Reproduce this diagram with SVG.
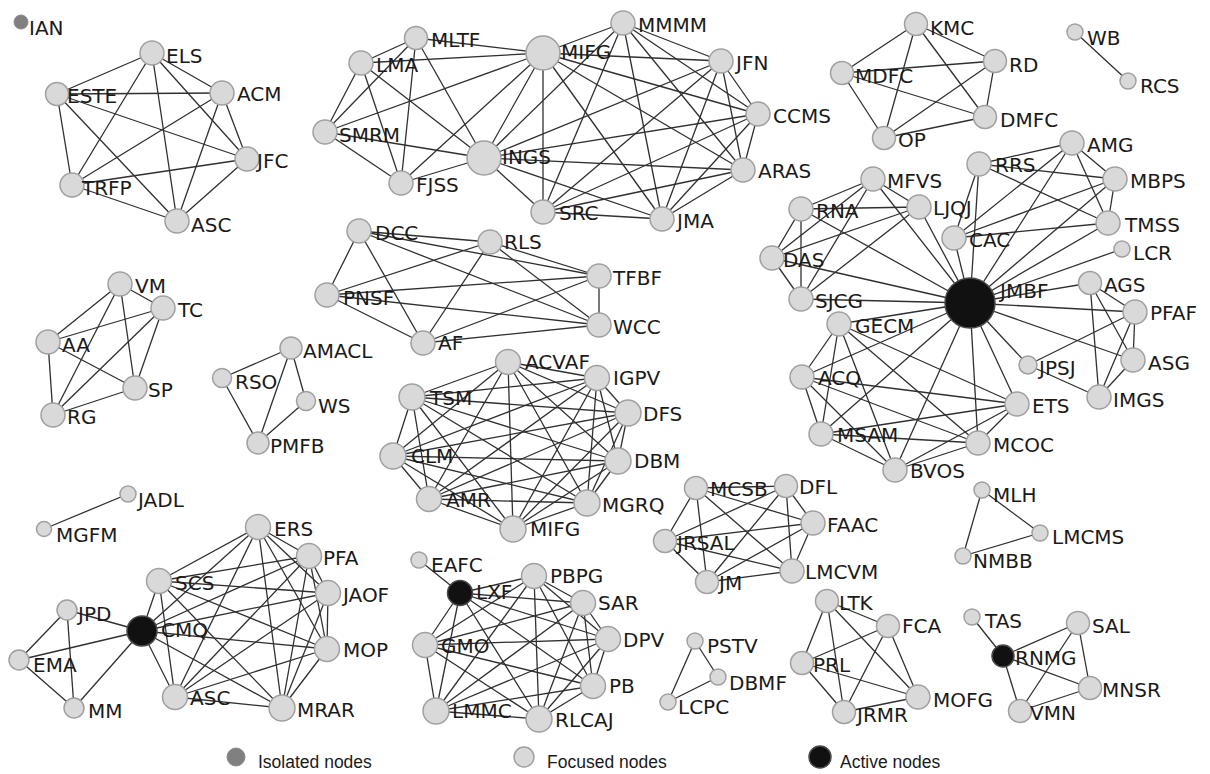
<svg xmlns="http://www.w3.org/2000/svg" width="1210" height="774" viewBox="0 0 1210 774">
<style>
.e line{stroke:#303030;stroke-width:1.3}
.n circle{fill:#d9d9d9;stroke:#a0a0a0;stroke-width:1.5}
.a circle{fill:#111;stroke:#4a4a4a;stroke-width:1.5}
.i circle{fill:#808080;stroke:#8a8a8a;stroke-width:1}
text{font-family:"DejaVu Sans",Verdana,sans-serif;font-size:20px;fill:#1a1a1a}
.lg text{font-family:"Liberation Sans",Arial,sans-serif;font-size:17.5px}
</style>
<rect width="1210" height="774" fill="#fff"/>
<g id="connectors" class="e">
<line x1="152" y1="53" x2="57" y2="94"/><line x1="152" y1="53" x2="222" y2="93"/><line x1="152" y1="53" x2="247" y2="159"/><line x1="152" y1="53" x2="72" y2="185"/><line x1="152" y1="53" x2="177" y2="221"/><line x1="57" y1="94" x2="222" y2="93"/><line x1="57" y1="94" x2="247" y2="159"/><line x1="57" y1="94" x2="72" y2="185"/><line x1="57" y1="94" x2="177" y2="221"/><line x1="222" y1="93" x2="247" y2="159"/><line x1="222" y1="93" x2="72" y2="185"/><line x1="222" y1="93" x2="177" y2="221"/><line x1="247" y1="159" x2="72" y2="185"/><line x1="247" y1="159" x2="177" y2="221"/><line x1="72" y1="185" x2="177" y2="221"/>
<line x1="416" y1="38" x2="361" y2="63"/><line x1="416" y1="38" x2="543" y2="53"/><line x1="416" y1="38" x2="325" y2="132"/><line x1="416" y1="38" x2="401" y2="183"/><line x1="416" y1="38" x2="484" y2="158"/><line x1="361" y1="63" x2="543" y2="53"/><line x1="361" y1="63" x2="325" y2="132"/><line x1="361" y1="63" x2="401" y2="183"/><line x1="361" y1="63" x2="484" y2="158"/><line x1="325" y1="132" x2="543" y2="53"/><line x1="325" y1="132" x2="484" y2="158"/><line x1="325" y1="132" x2="401" y2="183"/><line x1="401" y1="183" x2="484" y2="158"/><line x1="401" y1="183" x2="543" y2="53"/><line x1="484" y1="158" x2="543" y2="53"/><line x1="484" y1="158" x2="623" y2="23"/><line x1="484" y1="158" x2="721" y2="61"/><line x1="484" y1="158" x2="758" y2="114"/><line x1="484" y1="158" x2="743" y2="170"/><line x1="484" y1="158" x2="662" y2="219"/><line x1="484" y1="158" x2="543" y2="212"/><line x1="543" y1="53" x2="623" y2="23"/><line x1="543" y1="53" x2="721" y2="61"/><line x1="543" y1="53" x2="758" y2="114"/><line x1="543" y1="53" x2="743" y2="170"/><line x1="543" y1="53" x2="662" y2="219"/><line x1="543" y1="53" x2="543" y2="212"/><line x1="623" y1="23" x2="721" y2="61"/><line x1="623" y1="23" x2="758" y2="114"/><line x1="623" y1="23" x2="743" y2="170"/><line x1="623" y1="23" x2="662" y2="219"/><line x1="623" y1="23" x2="543" y2="212"/><line x1="721" y1="61" x2="758" y2="114"/><line x1="721" y1="61" x2="743" y2="170"/><line x1="721" y1="61" x2="662" y2="219"/><line x1="721" y1="61" x2="543" y2="212"/><line x1="758" y1="114" x2="743" y2="170"/><line x1="758" y1="114" x2="662" y2="219"/><line x1="758" y1="114" x2="543" y2="212"/><line x1="743" y1="170" x2="662" y2="219"/><line x1="743" y1="170" x2="543" y2="212"/><line x1="662" y1="219" x2="543" y2="212"/>
<line x1="916" y1="24" x2="842" y2="73"/><line x1="916" y1="24" x2="995" y2="61"/><line x1="916" y1="24" x2="985" y2="117"/><line x1="916" y1="24" x2="884" y2="138"/><line x1="842" y1="73" x2="995" y2="61"/><line x1="842" y1="73" x2="985" y2="117"/><line x1="842" y1="73" x2="884" y2="138"/><line x1="995" y1="61" x2="985" y2="117"/><line x1="995" y1="61" x2="884" y2="138"/><line x1="985" y1="117" x2="884" y2="138"/>
<line x1="1075" y1="32" x2="1128" y2="81"/>
<line x1="970" y1="303" x2="873" y2="179"/><line x1="970" y1="303" x2="919" y2="207"/><line x1="970" y1="303" x2="801" y2="209"/><line x1="970" y1="303" x2="772" y2="258"/><line x1="970" y1="303" x2="801" y2="299"/><line x1="970" y1="303" x2="954" y2="238"/><line x1="970" y1="303" x2="979" y2="164"/><line x1="970" y1="303" x2="1072" y2="143"/><line x1="970" y1="303" x2="1115" y2="179"/><line x1="970" y1="303" x2="1108" y2="223"/><line x1="970" y1="303" x2="1122" y2="249"/><line x1="970" y1="303" x2="1090" y2="283"/><line x1="970" y1="303" x2="1135" y2="312"/><line x1="970" y1="303" x2="1133" y2="360"/><line x1="970" y1="303" x2="1028" y2="365"/><line x1="970" y1="303" x2="1017" y2="404"/><line x1="970" y1="303" x2="978" y2="443"/><line x1="970" y1="303" x2="895" y2="470"/><line x1="970" y1="303" x2="821" y2="434"/><line x1="970" y1="303" x2="802" y2="377"/><line x1="970" y1="303" x2="839" y2="324"/>
<line x1="873" y1="179" x2="801" y2="209"/><line x1="873" y1="179" x2="919" y2="207"/><line x1="873" y1="179" x2="772" y2="258"/><line x1="873" y1="179" x2="801" y2="299"/><line x1="801" y1="209" x2="919" y2="207"/><line x1="801" y1="209" x2="772" y2="258"/><line x1="801" y1="209" x2="801" y2="299"/><line x1="919" y1="207" x2="772" y2="258"/><line x1="919" y1="207" x2="801" y2="299"/><line x1="772" y1="258" x2="801" y2="299"/>
<line x1="979" y1="164" x2="1072" y2="143"/><line x1="979" y1="164" x2="1115" y2="179"/><line x1="979" y1="164" x2="1108" y2="223"/><line x1="979" y1="164" x2="954" y2="238"/><line x1="1072" y1="143" x2="1115" y2="179"/><line x1="1072" y1="143" x2="1108" y2="223"/><line x1="1072" y1="143" x2="954" y2="238"/><line x1="1115" y1="179" x2="1108" y2="223"/><line x1="1115" y1="179" x2="954" y2="238"/><line x1="1108" y1="223" x2="954" y2="238"/>
<line x1="1090" y1="283" x2="1135" y2="312"/><line x1="1090" y1="283" x2="1133" y2="360"/><line x1="1090" y1="283" x2="1099" y2="397"/><line x1="1135" y1="312" x2="1133" y2="360"/><line x1="1135" y1="312" x2="1099" y2="397"/><line x1="1135" y1="312" x2="1028" y2="365"/><line x1="1133" y1="360" x2="1099" y2="397"/><line x1="1028" y1="365" x2="1099" y2="397"/>
<line x1="839" y1="324" x2="802" y2="377"/><line x1="839" y1="324" x2="821" y2="434"/><line x1="839" y1="324" x2="895" y2="470"/><line x1="839" y1="324" x2="978" y2="443"/><line x1="839" y1="324" x2="1017" y2="404"/><line x1="802" y1="377" x2="821" y2="434"/><line x1="802" y1="377" x2="895" y2="470"/><line x1="802" y1="377" x2="978" y2="443"/><line x1="802" y1="377" x2="1017" y2="404"/><line x1="821" y1="434" x2="895" y2="470"/><line x1="821" y1="434" x2="978" y2="443"/><line x1="821" y1="434" x2="1017" y2="404"/><line x1="895" y1="470" x2="978" y2="443"/><line x1="895" y1="470" x2="1017" y2="404"/><line x1="978" y1="443" x2="1017" y2="404"/>
<line x1="120" y1="284" x2="163" y2="308"/><line x1="120" y1="284" x2="48" y2="342"/><line x1="120" y1="284" x2="135" y2="388"/><line x1="120" y1="284" x2="53" y2="415"/><line x1="163" y1="308" x2="48" y2="342"/><line x1="163" y1="308" x2="135" y2="388"/><line x1="163" y1="308" x2="53" y2="415"/><line x1="48" y1="342" x2="135" y2="388"/><line x1="48" y1="342" x2="53" y2="415"/><line x1="135" y1="388" x2="53" y2="415"/>
<line x1="291" y1="348" x2="222" y2="378"/><line x1="291" y1="348" x2="306" y2="401"/><line x1="291" y1="348" x2="258" y2="443"/><line x1="222" y1="378" x2="258" y2="443"/><line x1="306" y1="401" x2="258" y2="443"/>
<line x1="359" y1="231" x2="490" y2="242"/><line x1="359" y1="231" x2="599" y2="276"/><line x1="359" y1="231" x2="327" y2="295"/><line x1="359" y1="231" x2="599" y2="325"/><line x1="359" y1="231" x2="423" y2="343"/><line x1="490" y1="242" x2="599" y2="276"/><line x1="490" y1="242" x2="327" y2="295"/><line x1="490" y1="242" x2="599" y2="325"/><line x1="490" y1="242" x2="423" y2="343"/><line x1="599" y1="276" x2="327" y2="295"/><line x1="599" y1="276" x2="599" y2="325"/><line x1="599" y1="276" x2="423" y2="343"/><line x1="327" y1="295" x2="599" y2="325"/><line x1="327" y1="295" x2="423" y2="343"/><line x1="599" y1="325" x2="423" y2="343"/>
<line x1="508" y1="362" x2="597" y2="378"/><line x1="508" y1="362" x2="412" y2="397"/><line x1="508" y1="362" x2="628" y2="413"/><line x1="508" y1="362" x2="393" y2="456"/><line x1="508" y1="362" x2="618" y2="461"/><line x1="508" y1="362" x2="429" y2="499"/><line x1="508" y1="362" x2="587" y2="503"/><line x1="508" y1="362" x2="513" y2="529"/><line x1="597" y1="378" x2="412" y2="397"/><line x1="597" y1="378" x2="628" y2="413"/><line x1="597" y1="378" x2="393" y2="456"/><line x1="597" y1="378" x2="618" y2="461"/><line x1="597" y1="378" x2="429" y2="499"/><line x1="597" y1="378" x2="587" y2="503"/><line x1="597" y1="378" x2="513" y2="529"/><line x1="412" y1="397" x2="628" y2="413"/><line x1="412" y1="397" x2="393" y2="456"/><line x1="412" y1="397" x2="618" y2="461"/><line x1="412" y1="397" x2="429" y2="499"/><line x1="412" y1="397" x2="587" y2="503"/><line x1="412" y1="397" x2="513" y2="529"/><line x1="628" y1="413" x2="393" y2="456"/><line x1="628" y1="413" x2="618" y2="461"/><line x1="628" y1="413" x2="429" y2="499"/><line x1="628" y1="413" x2="587" y2="503"/><line x1="628" y1="413" x2="513" y2="529"/><line x1="393" y1="456" x2="618" y2="461"/><line x1="393" y1="456" x2="429" y2="499"/><line x1="393" y1="456" x2="587" y2="503"/><line x1="393" y1="456" x2="513" y2="529"/><line x1="618" y1="461" x2="429" y2="499"/><line x1="618" y1="461" x2="587" y2="503"/><line x1="618" y1="461" x2="513" y2="529"/><line x1="429" y1="499" x2="587" y2="503"/><line x1="429" y1="499" x2="513" y2="529"/><line x1="587" y1="503" x2="513" y2="529"/>
<line x1="696" y1="488" x2="786" y2="486"/><line x1="696" y1="488" x2="813" y2="523"/><line x1="696" y1="488" x2="665" y2="541"/><line x1="696" y1="488" x2="792" y2="571"/><line x1="696" y1="488" x2="707" y2="582"/><line x1="786" y1="486" x2="813" y2="523"/><line x1="786" y1="486" x2="665" y2="541"/><line x1="786" y1="486" x2="792" y2="571"/><line x1="786" y1="486" x2="707" y2="582"/><line x1="813" y1="523" x2="665" y2="541"/><line x1="813" y1="523" x2="792" y2="571"/><line x1="813" y1="523" x2="707" y2="582"/><line x1="665" y1="541" x2="792" y2="571"/><line x1="665" y1="541" x2="707" y2="582"/><line x1="792" y1="571" x2="707" y2="582"/>
<line x1="982" y1="490" x2="1040" y2="533"/><line x1="982" y1="490" x2="963" y2="556"/><line x1="963" y1="556" x2="1040" y2="533"/>
<line x1="128" y1="494" x2="44" y2="529"/>
<line x1="67" y1="610" x2="19" y2="660"/><line x1="67" y1="610" x2="74" y2="708"/><line x1="67" y1="610" x2="142" y2="631"/><line x1="19" y1="660" x2="74" y2="708"/><line x1="19" y1="660" x2="142" y2="631"/><line x1="74" y1="708" x2="142" y2="631"/>
<line x1="142" y1="631" x2="258" y2="527"/><line x1="142" y1="631" x2="309" y2="556"/><line x1="142" y1="631" x2="159" y2="581"/><line x1="142" y1="631" x2="328" y2="593"/><line x1="142" y1="631" x2="327" y2="649"/><line x1="142" y1="631" x2="175" y2="697"/><line x1="142" y1="631" x2="282" y2="708"/><line x1="258" y1="527" x2="309" y2="556"/><line x1="258" y1="527" x2="159" y2="581"/><line x1="258" y1="527" x2="328" y2="593"/><line x1="258" y1="527" x2="327" y2="649"/><line x1="258" y1="527" x2="175" y2="697"/><line x1="258" y1="527" x2="282" y2="708"/><line x1="309" y1="556" x2="159" y2="581"/><line x1="309" y1="556" x2="328" y2="593"/><line x1="309" y1="556" x2="327" y2="649"/><line x1="309" y1="556" x2="175" y2="697"/><line x1="309" y1="556" x2="282" y2="708"/><line x1="159" y1="581" x2="328" y2="593"/><line x1="159" y1="581" x2="327" y2="649"/><line x1="159" y1="581" x2="175" y2="697"/><line x1="159" y1="581" x2="282" y2="708"/><line x1="328" y1="593" x2="327" y2="649"/><line x1="328" y1="593" x2="175" y2="697"/><line x1="328" y1="593" x2="282" y2="708"/><line x1="327" y1="649" x2="175" y2="697"/><line x1="327" y1="649" x2="282" y2="708"/><line x1="175" y1="697" x2="282" y2="708"/>
<line x1="419" y1="560" x2="460" y2="593"/>
<line x1="460" y1="593" x2="534" y2="576"/><line x1="460" y1="593" x2="583" y2="603"/><line x1="460" y1="593" x2="425" y2="645"/><line x1="460" y1="593" x2="608" y2="639"/><line x1="460" y1="593" x2="593" y2="686"/><line x1="460" y1="593" x2="436" y2="711"/><line x1="460" y1="593" x2="539" y2="719"/><line x1="534" y1="576" x2="583" y2="603"/><line x1="534" y1="576" x2="425" y2="645"/><line x1="534" y1="576" x2="608" y2="639"/><line x1="534" y1="576" x2="593" y2="686"/><line x1="534" y1="576" x2="436" y2="711"/><line x1="534" y1="576" x2="539" y2="719"/><line x1="583" y1="603" x2="425" y2="645"/><line x1="583" y1="603" x2="608" y2="639"/><line x1="583" y1="603" x2="593" y2="686"/><line x1="583" y1="603" x2="436" y2="711"/><line x1="583" y1="603" x2="539" y2="719"/><line x1="425" y1="645" x2="608" y2="639"/><line x1="425" y1="645" x2="593" y2="686"/><line x1="425" y1="645" x2="436" y2="711"/><line x1="425" y1="645" x2="539" y2="719"/><line x1="608" y1="639" x2="593" y2="686"/><line x1="608" y1="639" x2="436" y2="711"/><line x1="608" y1="639" x2="539" y2="719"/><line x1="593" y1="686" x2="436" y2="711"/><line x1="593" y1="686" x2="539" y2="719"/><line x1="436" y1="711" x2="539" y2="719"/>
<line x1="695" y1="641" x2="718" y2="677"/><line x1="695" y1="641" x2="668" y2="702"/><line x1="668" y1="702" x2="718" y2="677"/>
<line x1="827" y1="601" x2="888" y2="626"/><line x1="827" y1="601" x2="802" y2="663"/><line x1="827" y1="601" x2="918" y2="697"/><line x1="827" y1="601" x2="844" y2="712"/><line x1="888" y1="626" x2="802" y2="663"/><line x1="888" y1="626" x2="918" y2="697"/><line x1="888" y1="626" x2="844" y2="712"/><line x1="802" y1="663" x2="918" y2="697"/><line x1="802" y1="663" x2="844" y2="712"/><line x1="918" y1="697" x2="844" y2="712"/>
<line x1="972" y1="617" x2="1003" y2="656"/><line x1="1003" y1="656" x2="1078" y2="623"/><line x1="1003" y1="656" x2="1090" y2="688"/><line x1="1003" y1="656" x2="1020" y2="711"/><line x1="1078" y1="623" x2="1090" y2="688"/><line x1="1078" y1="623" x2="1020" y2="711"/><line x1="1020" y1="711" x2="1090" y2="688"/>
</g>
<g id="n-IAN" class="i"><circle cx="21" cy="22" r="7"/><text x="29" y="35">IAN</text></g>
<g id="n-ELS" class="n"><circle cx="152" cy="53" r="12"/><text x="166" y="63">ELS</text></g>
<g id="n-ESTE" class="n"><circle cx="57" cy="94" r="11.5"/><text x="67" y="103">ESTE</text></g>
<g id="n-ACM" class="n"><circle cx="222" cy="93" r="12"/><text x="237" y="101">ACM</text></g>
<g id="n-JFC" class="n"><circle cx="247" cy="159" r="12"/><text x="257" y="168">JFC</text></g>
<g id="n-TRFP" class="n"><circle cx="72" cy="185" r="12"/><text x="82" y="195">TRFP</text></g>
<g id="n-ASC-1" class="n"><circle cx="177" cy="221" r="12"/><text x="191" y="232">ASC</text></g>
<g id="n-MLTF" class="n"><circle cx="416" cy="38" r="11.5"/><text x="431" y="47">MLTF</text></g>
<g id="n-LMA" class="n"><circle cx="361" cy="63" r="12"/><text x="376" y="72">LMA</text></g>
<g id="n-SMRM" class="n"><circle cx="325" cy="132" r="12"/><text x="339" y="142">SMRM</text></g>
<g id="n-FJSS" class="n"><circle cx="401" cy="183" r="12"/><text x="416" y="192">FJSS</text></g>
<g id="n-INGS" class="n"><circle cx="484" cy="158" r="17"/><text x="502" y="164">INGS</text></g>
<g id="n-MIFG-1" class="n"><circle cx="543" cy="53" r="17"/><text x="561" y="59">MIFG</text></g>
<g id="n-MMMM" class="n"><circle cx="623" cy="23" r="12"/><text x="638" y="32">MMMM</text></g>
<g id="n-JFN" class="n"><circle cx="721" cy="61" r="12"/><text x="736" y="70">JFN</text></g>
<g id="n-CCMS" class="n"><circle cx="758" cy="114" r="12"/><text x="773" y="123">CCMS</text></g>
<g id="n-ARAS" class="n"><circle cx="743" cy="170" r="12"/><text x="758" y="178">ARAS</text></g>
<g id="n-JMA" class="n"><circle cx="662" cy="219" r="12"/><text x="677" y="228">JMA</text></g>
<g id="n-SRC" class="n"><circle cx="543" cy="212" r="12"/><text x="559" y="220">SRC</text></g>
<g id="n-KMC" class="n"><circle cx="916" cy="24" r="11.5"/><text x="930" y="35">KMC</text></g>
<g id="n-MDFC" class="n"><circle cx="842" cy="73" r="11.5"/><text x="855" y="83">MDFC</text></g>
<g id="n-RD" class="n"><circle cx="995" cy="61" r="11.5"/><text x="1009" y="72">RD</text></g>
<g id="n-DMFC" class="n"><circle cx="985" cy="117" r="11.5"/><text x="1000" y="127">DMFC</text></g>
<g id="n-OP" class="n"><circle cx="884" cy="138" r="11.5"/><text x="898" y="147">OP</text></g>
<g id="n-WB" class="n"><circle cx="1075" cy="32" r="8"/><text x="1087" y="45">WB</text></g>
<g id="n-RCS" class="n"><circle cx="1128" cy="81" r="8"/><text x="1140" y="93">RCS</text></g>
<g id="n-AMG" class="n"><circle cx="1072" cy="143" r="12"/><text x="1087" y="152">AMG</text></g>
<g id="n-RRS" class="n"><circle cx="979" cy="164" r="12"/><text x="995" y="172">RRS</text></g>
<g id="n-MBPS" class="n"><circle cx="1115" cy="179" r="12"/><text x="1130" y="188">MBPS</text></g>
<g id="n-MFVS" class="n"><circle cx="873" cy="179" r="12"/><text x="887" y="188">MFVS</text></g>
<g id="n-RNA" class="n"><circle cx="801" cy="209" r="12"/><text x="816" y="218">RNA</text></g>
<g id="n-LJQJ" class="n"><circle cx="919" cy="207" r="12"/><text x="933" y="215">LJQJ</text></g>
<g id="n-TMSS" class="n"><circle cx="1108" cy="223" r="12"/><text x="1125" y="232">TMSS</text></g>
<g id="n-CAC" class="n"><circle cx="954" cy="238" r="12"/><text x="969" y="247">CAC</text></g>
<g id="n-LCR" class="n"><circle cx="1122" cy="249" r="8"/><text x="1133" y="260">LCR</text></g>
<g id="n-DAS" class="n"><circle cx="772" cy="258" r="12"/><text x="783" y="267">DAS</text></g>
<g id="n-SJCG" class="n"><circle cx="801" cy="299" r="12"/><text x="815" y="308">SJCG</text></g>
<g id="n-AGS" class="n"><circle cx="1090" cy="283" r="11.5"/><text x="1104" y="292">AGS</text></g>
<g id="n-PFAF" class="n"><circle cx="1135" cy="312" r="12"/><text x="1150" y="320">PFAF</text></g>
<g id="n-GECM" class="n"><circle cx="839" cy="324" r="12"/><text x="855" y="333">GECM</text></g>
<g id="n-ASG" class="n"><circle cx="1133" cy="360" r="12"/><text x="1148" y="370">ASG</text></g>
<g id="n-JPSJ" class="n"><circle cx="1028" cy="365" r="9"/><text x="1039" y="375">JPSJ</text></g>
<g id="n-ACQ" class="n"><circle cx="802" cy="377" r="12"/><text x="818" y="385">ACQ</text></g>
<g id="n-IMGS" class="n"><circle cx="1099" cy="397" r="12"/><text x="1113" y="407">IMGS</text></g>
<g id="n-ETS" class="n"><circle cx="1017" cy="404" r="12"/><text x="1032" y="413">ETS</text></g>
<g id="n-MSAM" class="n"><circle cx="821" cy="434" r="12"/><text x="837" y="442">MSAM</text></g>
<g id="n-MCOC" class="n"><circle cx="978" cy="443" r="12"/><text x="993" y="452">MCOC</text></g>
<g id="n-BVOS" class="n"><circle cx="895" cy="470" r="12"/><text x="910" y="478">BVOS</text></g>
<g id="n-JMBF" class="a"><circle cx="970" cy="303" r="25"/><text x="1000" y="298">JMBF</text></g>
<g id="n-VM" class="n"><circle cx="120" cy="284" r="12"/><text x="135" y="293">VM</text></g>
<g id="n-TC" class="n"><circle cx="163" cy="308" r="12"/><text x="178" y="317">TC</text></g>
<g id="n-AA" class="n"><circle cx="48" cy="342" r="12"/><text x="62" y="352">AA</text></g>
<g id="n-SP" class="n"><circle cx="135" cy="388" r="12"/><text x="148" y="397">SP</text></g>
<g id="n-RG" class="n"><circle cx="53" cy="415" r="12"/><text x="67" y="424">RG</text></g>
<g id="n-AMACL" class="n"><circle cx="291" cy="348" r="11"/><text x="303" y="358">AMACL</text></g>
<g id="n-RSO" class="n"><circle cx="222" cy="378" r="9.5"/><text x="235" y="389">RSO</text></g>
<g id="n-WS" class="n"><circle cx="306" cy="401" r="9.5"/><text x="318" y="413">WS</text></g>
<g id="n-PMFB" class="n"><circle cx="258" cy="443" r="11"/><text x="270" y="453">PMFB</text></g>
<g id="n-DCC" class="n"><circle cx="359" cy="231" r="12"/><text x="375" y="240">DCC</text></g>
<g id="n-RLS" class="n"><circle cx="490" cy="242" r="12"/><text x="504" y="249">RLS</text></g>
<g id="n-TFBF" class="n"><circle cx="599" cy="276" r="12"/><text x="613" y="285">TFBF</text></g>
<g id="n-PNSF" class="n"><circle cx="327" cy="295" r="12"/><text x="343" y="305">PNSF</text></g>
<g id="n-WCC" class="n"><circle cx="599" cy="325" r="12"/><text x="613" y="334">WCC</text></g>
<g id="n-AF" class="n"><circle cx="423" cy="343" r="12"/><text x="438" y="350">AF</text></g>
<g id="n-ACVAF" class="n"><circle cx="508" cy="362" r="12.5"/><text x="525" y="369">ACVAF</text></g>
<g id="n-IGPV" class="n"><circle cx="597" cy="378" r="12.5"/><text x="613" y="385">IGPV</text></g>
<g id="n-TSM" class="n"><circle cx="412" cy="397" r="13"/><text x="430" y="405">TSM</text></g>
<g id="n-DFS" class="n"><circle cx="628" cy="413" r="13"/><text x="643" y="421">DFS</text></g>
<g id="n-CLM" class="n"><circle cx="393" cy="456" r="13"/><text x="411" y="463">CLM</text></g>
<g id="n-DBM" class="n"><circle cx="618" cy="461" r="13"/><text x="634" y="468">DBM</text></g>
<g id="n-AMR" class="n"><circle cx="429" cy="499" r="12.5"/><text x="446" y="507">AMR</text></g>
<g id="n-MGRQ" class="n"><circle cx="587" cy="503" r="13"/><text x="602" y="512">MGRQ</text></g>
<g id="n-MIFG-2" class="n"><circle cx="513" cy="529" r="13"/><text x="530" y="536">MIFG</text></g>
<g id="n-MCSB" class="n"><circle cx="696" cy="488" r="11.5"/><text x="710" y="496">MCSB</text></g>
<g id="n-DFL" class="n"><circle cx="786" cy="486" r="11.5"/><text x="799" y="494">DFL</text></g>
<g id="n-FAAC" class="n"><circle cx="813" cy="523" r="12"/><text x="827" y="532">FAAC</text></g>
<g id="n-JRSAL" class="n"><circle cx="665" cy="541" r="11.5"/><text x="677" y="550">JRSAL</text></g>
<g id="n-LMCVM" class="n"><circle cx="792" cy="571" r="12"/><text x="805" y="579">LMCVM</text></g>
<g id="n-JM" class="n"><circle cx="707" cy="582" r="11.5"/><text x="719" y="590">JM</text></g>
<g id="n-MLH" class="n"><circle cx="982" cy="490" r="8"/><text x="993" y="502">MLH</text></g>
<g id="n-LMCMS" class="n"><circle cx="1040" cy="533" r="8"/><text x="1052" y="544">LMCMS</text></g>
<g id="n-NMBB" class="n"><circle cx="963" cy="556" r="8"/><text x="973" y="568">NMBB</text></g>
<g id="n-JADL" class="n"><circle cx="128" cy="494" r="8"/><text x="138" y="507">JADL</text></g>
<g id="n-MGFM" class="n"><circle cx="44" cy="529" r="7.5"/><text x="56" y="542">MGFM</text></g>
<g id="n-ERS" class="n"><circle cx="258" cy="527" r="12.5"/><text x="274" y="536">ERS</text></g>
<g id="n-PFA" class="n"><circle cx="309" cy="556" r="12.5"/><text x="323" y="565">PFA</text></g>
<g id="n-SCS" class="n"><circle cx="159" cy="581" r="12.5"/><text x="175" y="590">SCS</text></g>
<g id="n-JAOF" class="n"><circle cx="328" cy="593" r="12.5"/><text x="343" y="602">JAOF</text></g>
<g id="n-JPD" class="n"><circle cx="67" cy="610" r="10"/><text x="78" y="621">JPD</text></g>
<g id="n-EMA" class="n"><circle cx="19" cy="660" r="10"/><text x="33" y="672">EMA</text></g>
<g id="n-MOP" class="n"><circle cx="327" cy="649" r="12.5"/><text x="343" y="657">MOP</text></g>
<g id="n-ASC-2" class="n"><circle cx="175" cy="697" r="12.5"/><text x="190" y="705">ASC</text></g>
<g id="n-MM" class="n"><circle cx="74" cy="708" r="10"/><text x="88" y="718">MM</text></g>
<g id="n-MRAR" class="n"><circle cx="282" cy="708" r="13"/><text x="297" y="717">MRAR</text></g>
<g id="n-CMQ" class="a"><circle cx="142" cy="631" r="15"/><text x="161" y="637">CMQ</text></g>
<g id="n-EAFC" class="n"><circle cx="419" cy="560" r="8"/><text x="431" y="572">EAFC</text></g>
<g id="n-PBPG" class="n"><circle cx="534" cy="576" r="12.5"/><text x="550" y="583">PBPG</text></g>
<g id="n-SAR" class="n"><circle cx="583" cy="603" r="12.5"/><text x="598" y="610">SAR</text></g>
<g id="n-GMO" class="n"><circle cx="425" cy="645" r="12.5"/><text x="441" y="653">GMO</text></g>
<g id="n-DPV" class="n"><circle cx="608" cy="639" r="12.5"/><text x="623" y="647">DPV</text></g>
<g id="n-PB" class="n"><circle cx="593" cy="686" r="12.5"/><text x="609" y="693">PB</text></g>
<g id="n-LMMC" class="n"><circle cx="436" cy="711" r="13"/><text x="452" y="718">LMMC</text></g>
<g id="n-RLCAJ" class="n"><circle cx="539" cy="719" r="13"/><text x="555" y="727">RLCAJ</text></g>
<g id="n-LXF" class="a"><circle cx="460" cy="593" r="12.5"/><text x="476" y="599">LXF</text></g>
<g id="n-PSTV" class="n"><circle cx="695" cy="641" r="8"/><text x="707" y="653">PSTV</text></g>
<g id="n-DBMF" class="n"><circle cx="718" cy="677" r="8"/><text x="729" y="690">DBMF</text></g>
<g id="n-LCPC" class="n"><circle cx="668" cy="702" r="8"/><text x="678" y="714">LCPC</text></g>
<g id="n-LTK" class="n"><circle cx="827" cy="601" r="11.5"/><text x="839" y="610">LTK</text></g>
<g id="n-FCA" class="n"><circle cx="888" cy="626" r="11.5"/><text x="902" y="633">FCA</text></g>
<g id="n-PRL" class="n"><circle cx="802" cy="663" r="11.5"/><text x="813" y="672">PRL</text></g>
<g id="n-MOFG" class="n"><circle cx="918" cy="697" r="12"/><text x="933" y="707">MOFG</text></g>
<g id="n-JRMR" class="n"><circle cx="844" cy="712" r="11.5"/><text x="857" y="722">JRMR</text></g>
<g id="n-TAS" class="n"><circle cx="972" cy="617" r="8"/><text x="985" y="628">TAS</text></g>
<g id="n-SAL" class="n"><circle cx="1078" cy="623" r="11.5"/><text x="1092" y="633">SAL</text></g>
<g id="n-MNSR" class="n"><circle cx="1090" cy="688" r="11.5"/><text x="1102" y="697">MNSR</text></g>
<g id="n-VMN" class="n"><circle cx="1020" cy="711" r="11.5"/><text x="1030" y="720">VMN</text></g>
<g id="n-RNMG" class="a"><circle cx="1003" cy="656" r="11"/><text x="1015" y="665">RNMG</text></g>
<g id="legend" class="lg">
<g class="i"><circle cx="236" cy="757" r="9"/></g><text x="258" y="768">Isolated nodes</text>
<g class="n"><circle cx="524" cy="757" r="10"/></g><text x="547" y="768">Focused nodes</text>
<g class="a"><circle cx="820" cy="757" r="11"/></g><text x="840" y="768">Active nodes</text>
</g>
</svg>
